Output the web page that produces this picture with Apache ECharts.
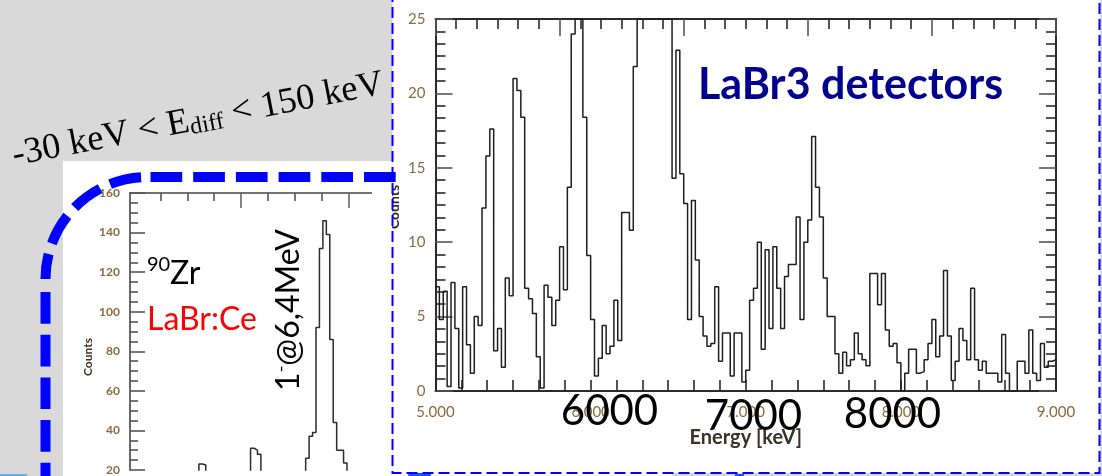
<!DOCTYPE html>
<html>
<head>
<meta charset="utf-8">
<script src="https://cdn.jsdelivr.net/npm/echarts@6/dist/echarts.min.js"></script>
<style>
  html, body { margin: 0; padding: 0; background: #d9d9d9; }
  #chart { width: 1102px; height: 476px; }
</style>
</head>
<body>
<div id="chart"></div>
<script>
// 90Zr spectrum (LaBr:Ce), 16 keV bins starting at 5484 keV
const zrStartKeV = 5484;
const zrBinKeV = 16;
const zrCounts = [
  8, 10, 9, 12, 11, 9, 13, 10, 12, 14, 11, 13, 15, 12, 14, 13, 16, 14, 15, 17,
  23, 22.5,
  17, 15, 16, 14, 17, 15, 13, 16, 14, 17, 15, 16, 18,
  31, 30, 28,
  18, 16, 17, 15, 14, 16, 13, 15, 17, 14, 16, 18, 19,
  26, 37, 39, 92, 132, 146, 139, 86, 44, 30, 30, 23.5,
  18, 15, 12, 10, 11, 9, 8, 10, 9
];
const zrTicksMinorKeV = [5625, 5750, 5875, 6125, 6250, 6375, 6625];
const zrTicksMajorKeV = [6000, 6500];

// LaBr3 detectors spectrum, 25 keV bins from 5000 keV
const labrStartKeV = 5000;
const labrBinKeV = 25;
const labrCounts = [
  7.0, 4.8, 6.7, 0.3, 7.3, 4.2, 0.2, 7.0, 3.1, 1.2,
  5.0, 4.4, 12.3, 15.8, 17.6, 2.7, 4.2, 1.6, 7.6, 6.4,
  21.0, 20.2, 18.4, 6.9, 6.2, 5.2, 2.3, 0.2, 7.1, 6.3,
  4.4, 6.1, 9.7, 6.8, 13.7, 24.0, 25, 25, 18.4, 9.1,
  4.8, 1.0, 2.2, 4.4, 2.5, 3.0, 6.1, 3.4, 12.0, 12.0,
  10.8, 21.8, 25, 25, 25, 25, 25, 25, 25, 25,
  25, 14.3, 22.9, 14.6, 12.6, 4.8, 12.8, 8.8, 5.0, 3.7,
  3.0, 3.2, 7.0, 2.0, 3.9, 3.9, 1.0, 3.9, 3.9, 0.6,
  1.4, 6.1, 6.9, 10.0, 2.8, 9.5, 4.2, 9.7, 6.9, 4.2,
  7.7, 8.5, 8.5, 11.7, 4.8, 10.0, 11.5, 17.1, 13.7, 11.7,
  7.6, 5.0, 5.0, 2.5, 1.2, 2.6, 1.7, 2.1, 3.9, 2.5,
  2.1, 1.7, 7.9, 7.9, 5.8, 7.9, 4.1, 3.0, 3.2, 1.9,
  0, 1.2, 2.8, 2.8, 1.2, 1.3, 2.1, 3.2, 4.8, 2.3,
  3.7, 8.1, 3.7, 0.7, 2.0, 4.2, 3.4, 2.1, 6.9, 2.1,
  1.4, 2.0, 1.2, 1.2, 1.2, 0.6, 3.8, 1.2, 0, 0,
  2.0, 2.0, 1.2, 4.1, 1.2, 0.7, 3.2, 1.6, 2.0, 2.1
];

// Histogram as step points: [bin start, count] plus a closing point at the last edge
function toSteps(start, width, counts) {
  const pts = counts.map((c, i) => [start + i * width, c]);
  pts.push([start + counts.length * width, counts[counts.length - 1]]);
  return pts;
}

const tickText = '#8c6a3c';
const frame = '#2a2a2a';
const blue = '#0000ff';
const blueDash = [31.7, 11];

const chart = echarts.init(document.getElementById('chart'), null, { renderer: 'canvas' });

const option = {
  backgroundColor: '#d9d9d9',
  animation: false,
  grid: [
    // the 90Zr panel runs past the bottom edge: only 20..160 counts are in view
    { left: 130, top: 193, width: 248, height: 283 },
    { left: 435.5, top: 19, width: 620.5, height: 372 }
  ],
  xAxis: [
    {
      gridIndex: 0, type: 'value', position: 'top',
      min: zrStartKeV, max: zrStartKeV + zrCounts.length * zrBinKeV,
      axisLine: { onZero: false, lineStyle: { color: '#444', width: 1.6 } },
      axisTick: { inside: true, length: 8, customValues: zrTicksMinorKeV, lineStyle: { color: '#555', width: 1.6 } },
      axisLabel: { show: false }, splitLine: { show: false }
    },
    {
      gridIndex: 0, type: 'value', position: 'top',
      min: zrStartKeV, max: zrStartKeV + zrCounts.length * zrBinKeV,
      axisLine: { show: false, onZero: false },
      axisTick: { inside: true, length: 15, customValues: zrTicksMajorKeV, lineStyle: { color: '#666', width: 1.6 } },
      axisLabel: { show: false }, splitLine: { show: false }
    },
    {
      gridIndex: 1, type: 'value', position: 'bottom',
      min: 5000, max: 9000, interval: 1000,
      name: 'Energy [keV]', nameLocation: 'middle', nameGap: 37,
      nameTextStyle: { fontFamily: 'Lato', fontWeight: 'bold', fontSize: 20, color: '#3a3128' },
      axisLine: { onZero: false, lineStyle: { color: frame, width: 2 } },
      axisTick: { inside: true, length: 11, lineStyle: { color: frame, width: 1.6 } },
      minorTick: { show: true, splitNumber: 6, length: 11, lineStyle: { color: frame, width: 1.6 } },
      axisLabel: {
        margin: 14, fontFamily: 'Lato', fontSize: 15, color: tickText,
        formatter: v => (v / 1000).toFixed(3)
      },
      splitLine: { show: false }
    },
    {
      gridIndex: 1, type: 'value', position: 'top',
      min: 0, max: 30, interval: 6,
      axisLine: { onZero: false, lineStyle: { color: frame, width: 2 } },
      axisTick: { inside: true, length: 17, lineStyle: { color: '#555', width: 1.6 } },
      minorTick: { show: true, splitNumber: 6, length: 10, lineStyle: { color: frame, width: 1.6 } },
      axisLabel: { show: false }, splitLine: { show: false }
    }
  ],
  yAxis: [
    {
      gridIndex: 0, type: 'value', min: 20, max: 160, interval: 20,
      axisLine: { onZero: false, lineStyle: { color: '#444', width: 1.6 } },
      axisTick: { inside: true, length: 15, lineStyle: { color: '#555', width: 1.6 } },
      minorTick: { show: true, splitNumber: 4, length: 8, lineStyle: { color: '#555', width: 1.6 } },
      axisLabel: { margin: 10, fontFamily: 'Lato', fontWeight: 'bold', fontSize: 12, color: tickText },
      splitLine: { show: false }
    },
    {
      gridIndex: 1, type: 'value', min: 0, max: 25, interval: 5, position: 'left',
      axisLine: { onZero: false, lineStyle: { color: frame, width: 2 } },
      axisTick: { inside: true, length: 17, lineStyle: { color: '#555', width: 1.6 } },
      minorTick: { show: true, splitNumber: 6, length: 10, lineStyle: { color: frame, width: 1.6 } },
      axisLabel: { margin: 10, fontFamily: 'Lato', fontSize: 15, color: tickText },
      splitLine: { show: false }
    },
    {
      gridIndex: 1, type: 'value', min: 0, max: 25, interval: 5, position: 'right',
      axisLine: { onZero: false, lineStyle: { color: frame, width: 2 } },
      axisTick: { inside: true, length: 17, lineStyle: { color: '#555', width: 1.6 } },
      minorTick: { show: true, splitNumber: 6, length: 10, lineStyle: { color: frame, width: 1.6 } },
      axisLabel: { show: false },
      splitLine: { show: false }
    }
  ],
  series: [
    {
      name: '90Zr', type: 'line', xAxisIndex: 0, yAxisIndex: 0,
      step: 'end', symbol: 'none', clip: true,
      lineStyle: { color: '#2b2b2b', width: 1.5 },
      data: toSteps(zrStartKeV, zrBinKeV, zrCounts)
    },
    {
      name: 'LaBr3', type: 'line', xAxisIndex: 2, yAxisIndex: 1,
      step: 'end', symbol: 'none', clip: true,
      lineStyle: { color: '#1e1e1e', width: 1.5 },
      data: toSteps(labrStartKeV, labrBinKeV, labrCounts)
    }
  ],
  graphic: [
    // white panels behind the two spectra
    { type: 'rect', z: -5, shape: { x: 63, y: 161, width: 331, height: 315 }, style: { fill: '#ffffff' } },
    { type: 'rect', z: -5, shape: { x: 392, y: 0, width: 708, height: 473 }, style: { fill: '#ffffff' } },
    { type: 'rect', z: -5, shape: { x: 392, y: 473, width: 280, height: 3 }, style: { fill: '#ffffff' } },
    { type: 'rect', z: -4, shape: { x: 408, y: 473, width: 23, height: 3, r: [3, 3, 0, 0] }, style: { fill: '#1f4fff' } },
    { type: 'rect', z: -4, shape: { x: 735, y: 474, width: 9, height: 2 }, style: { fill: '#1f4fff' } },
    { type: 'rect', z: -4, shape: { x: 0, y: 474, width: 27, height: 2 }, style: { fill: '#5ab4e6' } },
    // y titles (the 90Zr one is centred on its full 0..160 axis)
    {
      type: 'text', z: 10, x: 88, y: 357, rotation: Math.PI / 2,
      style: { text: 'Counts', font: 'bold 12px Lato', fill: '#3a3128', align: 'center', verticalAlign: 'middle' }
    },
    {
      type: 'text', z: 30, x: 394, y: 207, rotation: Math.PI / 2,
      style: { text: 'Counts', font: 'bold 14px Lato', fill: '#2e2a26', align: 'center', verticalAlign: 'middle' }
    },
    // trims the left side of the LaBr3 "Counts" title at the panel edge
    { type: 'rect', z: 40, shape: { x: 372, y: 184, width: 20, height: 60 }, style: { fill: '#ffffff' } },
    // thin dashed frame around the LaBr3 panel
    {
      type: 'rect', z: 50,
      shape: { x: 392.5, y: -10, width: 707, height: 483 },
      style: { fill: null, stroke: blue, lineWidth: 2, lineDash: [11, 5] }
    },
    // thick dashed rounded connector
    {
      type: 'line', z: 60,
      shape: { x1: 150.5, y1: 177, x2: 396, y2: 177 },
      style: { stroke: blue, lineWidth: 10, lineDash: blueDash }
    },
    {
      type: 'arc', z: 60,
      shape: { cx: 147.5, cy: 279, r: 102, startAngle: Math.PI, endAngle: Math.PI * 1.5, clockwise: true },
      style: { fill: null, stroke: blue, lineWidth: 10, lineDash: blueDash, lineDashOffset: 6.4 }
    },
    {
      type: 'line', z: 60,
      shape: { x1: 45.5, y1: 292, x2: 45.5, y2: 490 },
      style: { stroke: blue, lineWidth: 10, lineDash: blueDash }
    },
    // energy window condition
    {
      type: 'text', z: 70, x: 198, y: 120, rotation: 0.192,
      style: {
        text: '-30 keV < E{sub|diff} < 150 keV',
        font: '36.5px "Liberation Serif"', fill: '#000',
        align: 'center', verticalAlign: 'middle',
        rich: { sub: { fontFamily: 'Liberation Serif', fontSize: 24, verticalAlign: 'bottom', fill: '#000' } }
      }
    },
    // 90Zr panel annotations
    { type: 'text', z: 70, x: 147, y: 265, style: { text: '90', font: '20px Lato', fill: '#000', align: 'left', verticalAlign: 'middle' } },
    { type: 'text', z: 70, x: 170, y: 274, style: { text: 'Zr', font: '32px Lato', fill: '#000', align: 'left', verticalAlign: 'middle' } },
    { type: 'text', z: 70, x: 147, y: 320, style: { text: 'LaBr:Ce', font: '32px Lato', fill: '#ff0000', align: 'left', verticalAlign: 'middle' } },
    {
      type: 'text', z: 70, x: 288.5, y: 310, rotation: Math.PI / 2,
      style: {
        text: '1{s|-}@6,4MeV', font: '32px Lato', fill: '#000',
        align: 'center', verticalAlign: 'middle',
        rich: { s: { fontFamily: 'Lato', fontSize: 18, verticalAlign: 'top', fill: '#000' } }
      }
    },
    // LaBr3 panel annotations
    { type: 'text', z: 70, x: 698, y: 85, style: { text: 'LaBr3 detectors', font: 'bold 43px Lato', fill: '#000090', align: 'left', verticalAlign: 'middle' } },
    { type: 'text', z: 70, x: 609.5, y: 411.5, style: { text: '6000', font: '42px Lato', fill: '#000', align: 'center', verticalAlign: 'middle' } },
    { type: 'text', z: 70, x: 753.5, y: 416.5, style: { text: '7000', font: '42px Lato', fill: '#000', align: 'center', verticalAlign: 'middle' } },
    { type: 'text', z: 70, x: 892.5, y: 414.5, style: { text: '8000', font: '42px Lato', fill: '#000', align: 'center', verticalAlign: 'middle' } }
  ]
};

chart.setOption(option);
</script>
</body>
</html>
